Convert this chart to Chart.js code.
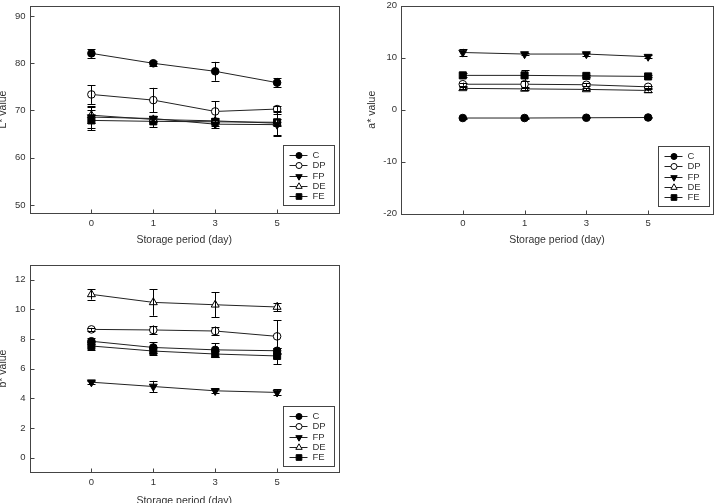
<!DOCTYPE html>
<html><head><meta charset="utf-8">
<script src="https://cdn.jsdelivr.net/npm/chart.js@4.4.1/dist/chart.umd.min.js"></script>
<style>
html,body{margin:0;padding:0;background:#fff;}
body{width:714px;height:503px;overflow:hidden;position:relative;}
canvas{position:absolute;}
</style></head><body>
<canvas id="c1" width="345" height="250" style="left:-3px;top:-4.4px"></canvas>
<canvas id="c2" width="348" height="251" style="left:366px;top:-4.2px"></canvas>
<canvas id="c3" width="345" height="254" style="left:-3px;top:255.3px"></canvas>
<script>
// ---- data ----
const days = ['0', '1', '3', '5'];
const seriesNames = ['C', 'DP', 'FP', 'DE', 'FE'];

// L* value
const L_C   = [82.1, 80.0, 78.3, 75.9];
const L_C_err = [0.9, 0.5, 2.0, 1.0];
const L_DP  = [73.4, 72.2, 69.8, 70.3];
const L_DP_err = [2.0, 2.6, 2.2, 0.6];
const L_FP  = [68.6, 68.3, 67.1, 67.0];
const L_FP_err = [2.3, 0.5, 0.8, 2.2];
const L_DE  = [69.0, 68.1, 67.8, 67.3];
const L_DE_err = [1.7, 0.6, 0.5, 2.6];
const L_FE  = [67.9, 67.7, 67.6, 67.5];
const L_FE_err = [2.1, 1.2, 0.9, 0.8];

// a* value
const A_C   = [-1.6, -1.6, -1.55, -1.5];
const A_C_err = [0.1, 0.1, 0.1, 0.1];
const A_DP  = [4.9, 4.9, 4.8, 4.4];
const A_DP_err = [0.3, 0.6, 0.3, 0.2];
const A_FP  = [11.0, 10.7, 10.7, 10.2];
const A_FP_err = [0.7, 0.2, 0.3, 0.3];
const A_DE  = [4.1, 4.0, 3.9, 3.7];
const A_DE_err = [0.2, 0.2, 0.2, 0.2];
const A_FE  = [6.6, 6.6, 6.5, 6.4];
const A_FE_err = [0.4, 1.0, 0.2, 0.2];

// b* value
const B_C   = [7.84, 7.42, 7.26, 7.2];
const B_C_err = [0.2, 0.35, 0.45, 0.2];
const B_DP  = [8.64, 8.6, 8.53, 8.17];
const B_DP_err = [0.1, 0.3, 0.3, 1.1];
const B_FP  = [5.08, 4.79, 4.5, 4.39];
const B_FP_err = [0.1, 0.38, 0.15, 0.2];
const B_DE  = [11.0, 10.46, 10.3, 10.15];
const B_DE_err = [0.35, 0.9, 0.83, 0.3];
const B_FE  = [7.52, 7.18, 6.98, 6.85];
const B_FE_err = [0.3, 0.3, 0.2, 0.55];

const L_ticks = [50, 60, 70, 80, 90];
const A_ticks = [-20, -10, 0, 10, 20];
const B_ticks = [0, 2, 4, 6, 8, 10, 12];

// ---- styles ----
const markerStyle = {
  C:  {pointStyle: 'circle',   fill: '#000', radius: 3.8, rotation: 0},
  DP: {pointStyle: 'circle',   fill: '#fff', radius: 3.8, rotation: 0},
  FP: {pointStyle: 'triangle', fill: '#000', radius: 4.6, rotation: 180},
  DE: {pointStyle: 'triangle', fill: '#fff', radius: 4.6, rotation: 0},
  FE: {pointStyle: 'rect',     fill: '#000', radius: 5.0, rotation: 0}
};
const FONT = 'Liberation Sans, Arial, sans-serif';
const INK = '#333';

function buildDatasets(vals, errs) {
  return seriesNames.map((name, i) => {
    const st = markerStyle[name];
    return {
      label: name,
      data: vals[i].map((v, j) => ({x: j + 1, y: v})),
      errors: errs[i],
      borderColor: '#222',
      borderWidth: 1,
      pointStyle: st.pointStyle,
      pointRotation: st.rotation,
      pointRadius: st.radius,
      pointBackgroundColor: st.fill,
      pointBorderColor: '#000',
      pointBorderWidth: 1,
      tension: 0,
      fill: false
    };
  });
}

const framePlugin = {
  id: 'frameTicks',
  beforeDatasetsDraw(chart) {
    const {ctx, chartArea: a, scales} = chart;
    ctx.save();
    ctx.strokeStyle = '#444';
    ctx.lineWidth = 1;
    const L = Math.round(a.left) + 0.5, R = Math.round(a.right) + 0.5;
    const T = Math.round(a.top) + 0.5, B = Math.round(a.bottom) + 0.5;
    ctx.strokeRect(L, T, R - L, B - T);
    ctx.beginPath();
    scales.y.ticks.forEach(t => {
      const y = Math.round(scales.y.getPixelForValue(t.value)) + 0.5;
      ctx.moveTo(L, y); ctx.lineTo(L + 4, y);
    });
    scales.x.ticks.forEach(t => {
      const x = Math.round(scales.x.getPixelForValue(t.value)) + 0.5;
      ctx.moveTo(x, B); ctx.lineTo(x, B - 4);
    });
    ctx.stroke();
    ctx.restore();
  },
  afterDatasetsDraw(chart) {
    const {ctx, scales} = chart;
    ctx.save();
    ctx.strokeStyle = '#000';
    ctx.lineWidth = 1;
    ctx.beginPath();
    chart.data.datasets.forEach((ds, di) => {
      const meta = chart.getDatasetMeta(di);
      ds.data.forEach((p, j) => {
        const e = ds.errors[j];
        const x = Math.round(meta.data[j].x) + 0.5;
        const y1 = scales.y.getPixelForValue(p.y + e);
        const y2 = scales.y.getPixelForValue(p.y - e);
        ctx.moveTo(x, y1); ctx.lineTo(x, y2);
        ctx.moveTo(x - 4, Math.round(y1) + 0.5); ctx.lineTo(x + 4, Math.round(y1) + 0.5);
        ctx.moveTo(x - 4, Math.round(y2) + 0.5); ctx.lineTo(x + 4, Math.round(y2) + 0.5);
      });
    });
    ctx.stroke();
    ctx.restore();
  },
  afterDraw(chart) {
    const {ctx, chartArea: a} = chart;
    const opt = chart.options.plugins.boxLegend;
    const w = 51, h = 60;
    const left = Math.round(a.right - opt.right - w) + 0.5;
    const top = Math.round(a.bottom - opt.bottom - h) + 0.5;
    ctx.save();
    ctx.fillStyle = '#fff';
    ctx.fillRect(left, top, w, h);
    ctx.strokeStyle = '#444';
    ctx.lineWidth = 1;
    ctx.strokeRect(left, top, w, h);
    ctx.font = '9.5px ' + FONT;
    ctx.textBaseline = 'middle';
    seriesNames.forEach((name, i) => {
      const y = Math.round(top + 9.5 + i * 10.3);
      ctx.strokeStyle = '#222';
      ctx.beginPath();
      ctx.moveTo(left + 6, y + 0.5); ctx.lineTo(left + 24, y + 0.5);
      ctx.stroke();
      const st = markerStyle[name];
      ctx.fillStyle = st.fill;
      ctx.strokeStyle = '#000';
      Chart.helpers.drawPoint(ctx, {pointStyle: st.pointStyle, rotation: st.rotation,
        radius: st.radius * 0.8, borderWidth: 1}, left + 15.5, y + 0.5);
      ctx.fillStyle = INK;
      ctx.fillText(name, left + 29, y + 0.5);
    });
    ctx.restore();
  }
};

function makeChart(id, cfg) {
  new Chart(document.getElementById(id), {
    type: 'line',
    data: {datasets: buildDatasets(cfg.vals, cfg.errs)},
    options: {
      responsive: false,
      animation: false,
      devicePixelRatio: 1,
      layout: {autoPadding: false,
               padding: {top: 0, right: cfg.padRight, bottom: cfg.padBottom, left: 0}},
      plugins: {
        legend: {display: false},
        tooltip: {enabled: false},
        boxLegend: {right: cfg.legRight, bottom: cfg.legBottom}
      },
      scales: {
        x: {
          type: 'linear', min: 0, max: cfg.xMax,
          afterBuildTicks: s => { s.ticks = days.map((d, i) => ({value: i + 1})); },
          ticks: {callback: v => days[v - 1], autoSkip: false, maxRotation: 0, padding: 4,
                  font: {family: FONT, size: 9.5}, color: INK},
          grid: {display: false, drawTicks: false},
          border: {display: false},
          title: {display: true, text: 'Storage period (day)', padding: 0,
                  font: {family: FONT, size: 10.5}, color: INK},
          afterFit: s => { s.height = cfg.xh; }
        },
        y: {
          min: cfg.yMin, max: cfg.yMax,
          afterBuildTicks: s => { s.ticks = cfg.yTicks.map(v => ({value: v})); },
          ticks: {padding: 4, font: {family: FONT, size: 9.5}, color: INK},
          grid: {display: false, drawTicks: false},
          border: {display: false},
          title: {display: true, text: cfg.yTitle, padding: 0,
                  font: {family: FONT, size: 10.5}, color: INK},
          afterFit: s => { s.width = cfg.yw; }
        }
      }
    },
    plugins: [framePlugin]
  });
}

makeChart('c1', {
  vals: [L_C, L_DP, L_FP, L_DE, L_FE],
  errs: [L_C_err, L_DP_err, L_FP_err, L_DE_err, L_FE_err],
  yMin: 48.2, yMax: 92.2, yTicks: L_ticks, yTitle: 'L* value',
  xMax: 5, padRight: 3, padBottom: 0, xh: 32.6, yw: 32.5,
  legRight: 5, legBottom: 8
});
makeChart('c2', {
  vals: [A_C, A_DP, A_FP, A_DE, A_FE],
  errs: [A_C_err, A_DP_err, A_FP_err, A_DE_err, A_FE_err],
  yMin: -20, yMax: 20, yTicks: A_ticks, yTitle: 'a* value',
  xMax: 5.05, padRight: 1, padBottom: 0.7, xh: 32.6, yw: 35,
  legRight: 4, legBottom: 8
});
makeChart('c3', {
  vals: [B_C, B_DP, B_FP, B_DE, B_FE],
  errs: [B_C_err, B_DP_err, B_FP_err, B_DE_err, B_FE_err],
  yMin: -1, yMax: 13, yTicks: B_ticks, yTitle: 'b* value',
  xMax: 5, padRight: 3, padBottom: 1.7, xh: 34.9, yw: 32.5,
  legRight: 5, legBottom: 6
});
</script>
</body></html>
